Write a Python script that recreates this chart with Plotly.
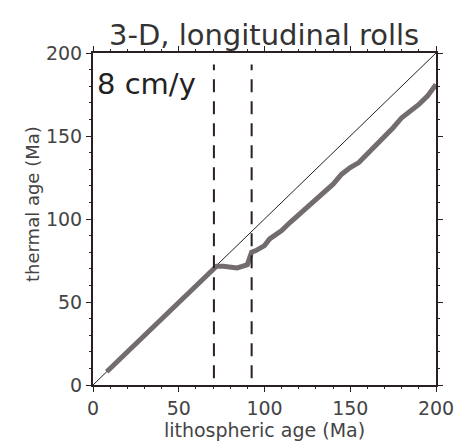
import plotly.graph_objects as go

# Data
lith_age = [8, 20, 30, 40, 50, 60, 70, 72, 76, 80, 84, 87, 90, 91.5, 92.5, 95, 100, 103,
            110, 115, 121, 126, 130, 135, 140, 145, 150, 155, 160, 165, 170, 175, 180,
            185, 190, 195, 200]
thermal_age = [8, 20, 30, 40, 50, 60, 70, 71.5, 71.5, 71, 70.5, 71.5, 72.5, 77, 80, 81, 84, 88,
               93, 98, 103.5, 108, 112, 116, 121, 127, 131, 134, 139, 145, 150, 155, 161,
               165, 169, 174, 181]
ref_x = [0, 200]
ref_y = [0, 200]
dash_x1 = [70.5, 70.5]
dash_x2 = [92.5, 92.5]
dash_y = [4, 193]
tick_vals = [0, 50, 100, 150, 200]
tick_text = ["0", "50", "100", "150", "200"]

font = "DejaVu Sans, sans-serif"

fig = go.Figure()
fig.add_trace(go.Scatter(x=ref_x, y=ref_y, mode="lines",
                         line=dict(color="#222222", width=1), hoverinfo="skip"))
fig.add_trace(go.Scatter(x=lith_age, y=thermal_age, mode="lines",
                         line=dict(color="#736c6e", width=5), hoverinfo="skip"))
fig.add_trace(go.Scatter(x=dash_x1, y=dash_y, mode="lines",
                         line=dict(color="#2a1f22", width=2, dash="13px,9px")))
fig.add_trace(go.Scatter(x=dash_x2, y=dash_y, mode="lines",
                         line=dict(color="#2a1f22", width=2, dash="13px,9px")))

axis_common = dict(
    range=[0, 200], tickvals=tick_vals, ticktext=tick_text,
    showline=True, linecolor="#2a1f22", linewidth=2, mirror="allticks",
    ticks="outside", ticklen=5, tickwidth=1, tickcolor="#2a1f22",
    minor=dict(dtick=10, ticks="outside", ticklen=2, tickcolor="#2a1f22"),
    showgrid=False, zeroline=False,
    tickfont=dict(family=font, size=19, color="#444444"),
)

fig.update_layout(
    width=459, height=436,
    margin=dict(l=85, r=31, t=45, b=51),
    plot_bgcolor="white", paper_bgcolor="white",
    showlegend=False,
    title=dict(text="3-D, longitudinal rolls", x=0.558, xanchor="center",
               y=0.938, yanchor="middle",
               font=dict(family=font, size=29, color="#333333")),
    xaxis=dict(**axis_common,
               title=dict(text="lithospheric age (Ma)", standoff=0,
                          font=dict(family=font, size=19, color="#444444"))),
    yaxis=dict(**axis_common),
    annotations=[
        dict(text="8 cm/y", xref="paper", yref="paper", x=0.005, y=0.965,
             xanchor="left", yanchor="top", showarrow=False,
             font=dict(family=font, size=29, color="#222222")),
        dict(text="thermal age (Ma)", xref="paper", yref="paper", x=-0.178, y=0.545,
             xanchor="center", yanchor="middle", textangle=-90, showarrow=False,
             font=dict(family=font, size=18, color="#444444")),
    ],
)

fig.write_html("out.html")
